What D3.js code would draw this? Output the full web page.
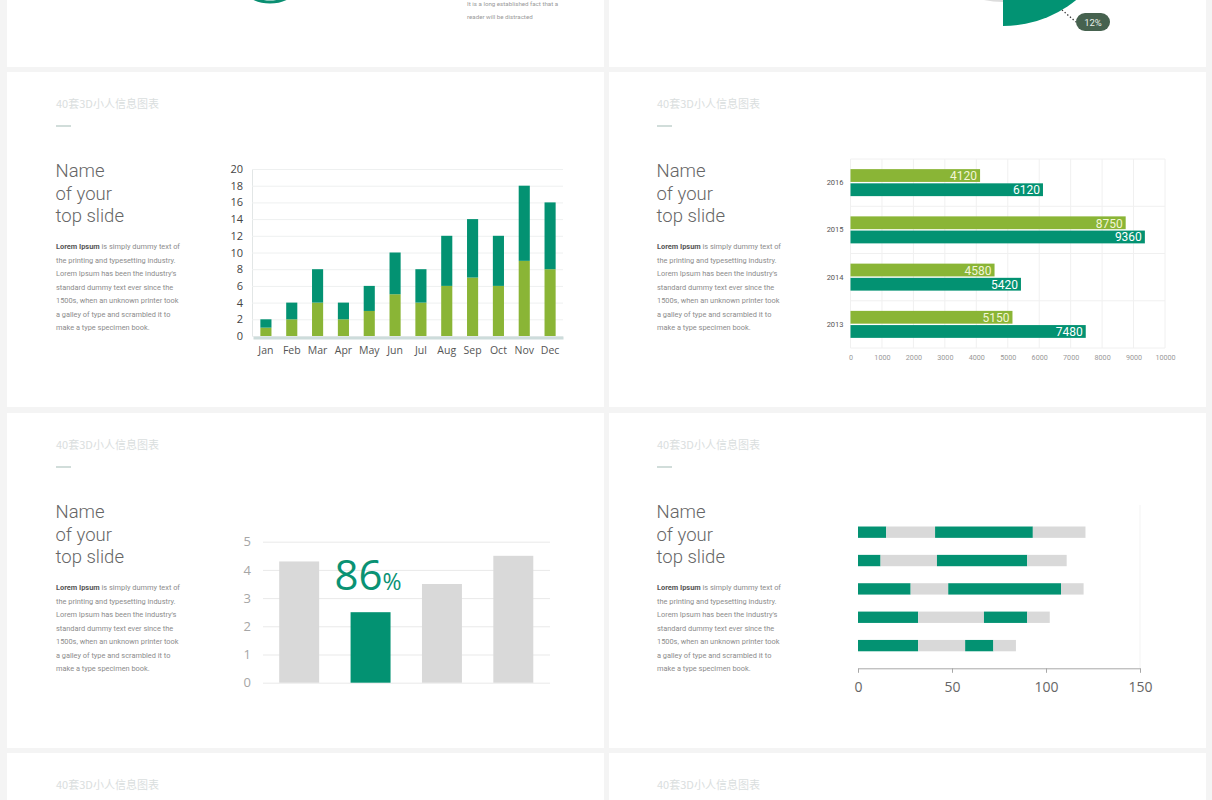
<!DOCTYPE html>
<html><head><meta charset="utf-8">
<script src="https://cdn.jsdelivr.net/npm/d3@7"></script>
<style>
html,body{margin:0;padding:0;background:#f4f4f4;}
svg{display:block;}
</style></head>
<body>
<svg id="c" width="1212" height="800"></svg>
<script>
// ---------- DATA ----------
const titleText = "40套3D小人信息图表";
const headLines = ["Name", "of your", "top slide"];
const paraBold = "Lorem Ipsum";
const paraLines = [" is simply dummy text of", "the printing and typesetting industry.", "Lorem Ipsum has been the industry's", "standard dummy text ever since the", "1500s, when an unknown printer took", "a galley of type and scrambled it to", "make a type specimen book."];
const topNote = ["It is a long established fact that a", "reader will be distracted"];

// chart 1: stacked monthly columns
const months = ["Jan","Feb","Mar","Apr","May","Jun","Jul","Aug","Sep","Oct","Nov","Dec"];
const lowerSeries = [1,2,4,2,3,5,4,6,7,6,9,8];
const upperSeries = [1,2,4,2,3,5,4,6,7,6,9,8];
const stackTicks = [0,2,4,6,8,10,12,14,16,18,20];

// chart 2: grouped horizontal bars
const years = ["2016","2015","2014","2013"];
const greenValues = [4120,8750,4580,5150];
const tealValues = [6120,9360,5420,7480];
const hTicks = [0,1000,2000,3000,4000,5000,6000,7000,8000,9000,10000];

// chart 3: columns with highlight
const colCats = ["A","B","C","D"];
const colValues = [4.3,2.5,3.5,4.5];
const colHighlight = "B";
const colBig = "86";
const colTicks = [0,1,2,3,4,5];

// chart 4: segmented horizontal bars
const segRows = ["r1","r2","r3","r4","r5"];
const segA = [15,12,28,32,32];
const segB = [26,30,20,35,25];
const segC = [52,48,60,23,15];
const segD = [28,21,12,12,12];
const segTicks = [0,50,100,150];

// top row partial charts
const pieSlices = [{v:25, r:116, c:"#029373"},{v:15, r:92, c:"#dcdcdc"}];
const pieLabel = "12%";

// ---------- STYLE ----------
const TEAL = "#039272", GREEN = "#8ab536", GRAY = "#d9d9d9";
const svg = d3.select("#c");
const fmtInt = d3.format("d");

// panels
const panels = [
  [7,-10,597,77],[609,-10,597,77],
  [7,72,597,335],[609,72,597,335],
  [7,413,597,335],[609,413,597,335],
  [7,753,597,60],[609,753,597,60]
];
svg.selectAll("rect.panel").data(panels).join("rect").attr("class","panel")
  .attr("x",d=>d[0]).attr("y",d=>d[1]).attr("width",d=>d[2]).attr("height",d=>d[3]).attr("fill","#fff");

function title(x,y){
  svg.append("text").attr("x",x).attr("y",y).text(titleText)
    .attr("font-family","'Noto Sans CJK SC', 'Noto Sans', sans-serif").attr("font-size",11).attr("fill","#dadede");
}
function block(x,dy){
  title(x,108+dy);
  svg.append("line").attr("x1",x).attr("x2",x+15).attr("y1",126+dy).attr("y2",126+dy).attr("stroke","#b9cbc6").attr("stroke-width",1.3);
  headLines.forEach((t,i)=>svg.append("text").attr("x",x-0.5).attr("y",177+dy+i*22.5).text(t)
    .attr("font-family","Roboto, sans-serif").attr("font-weight",300).attr("font-size",18.5).attr("fill","#666"));
  paraLines.forEach((t,i)=>{
    const tx = svg.append("text").attr("x",x).attr("y",249+dy+i*13.5)
      .attr("font-family","Roboto, sans-serif").attr("font-size",7.4).attr("fill","#8c8c8c");
    if(i===0){ tx.append("tspan").attr("font-weight",700).attr("fill","#555").text(paraBold); }
    tx.append("tspan").text(t);
  });
}
block(56,0); block(657,0); block(56,341); block(657,341);
title(56,789); title(657,789);

// ---------- TOP ROW partial visuals ----------
svg.append("circle").attr("cx",270).attr("cy",-36).attr("r",38).attr("fill","none").attr("stroke","#0a8f72").attr("stroke-width",3);
topNote.forEach((t,i)=>svg.append("text").attr("x",467).attr("y",6+i*12.5).text(t)
  .attr("font-family","Roboto, sans-serif").attr("font-size",6.2).attr("fill","#9a9a9a"));

const pieG = svg.append("g").attr("transform","translate(1003,-90)");
let a0 = Math.PI/2;
pieSlices.forEach((s,i)=>{
  const ang = i===0 ? Math.PI/2 : 0.35;
  const arc = d3.arc().innerRadius(0).outerRadius(s.r).startAngle(a0).endAngle(a0+ang);
  pieG.append("path").attr("d",arc()).attr("fill",s.c);
  a0 += ang;
});
svg.append("line").attr("x1",1062).attr("y1",10).attr("x2",1076).attr("y2",22)
  .attr("stroke","#333").attr("stroke-width",1.3).attr("stroke-dasharray","1.3,2.2");
svg.append("rect").attr("x",1076).attr("y",13).attr("width",34).attr("height",18).attr("rx",9).attr("fill","#46624f");
svg.append("text").attr("x",1093).attr("y",25.5).attr("text-anchor","middle").text(pieLabel)
  .attr("font-family","Roboto, sans-serif").attr("font-size",9.5).attr("fill","#e8f0ea");

// ---------- CHART 1 : stacked columns ----------
{
  const x = d3.scaleBand().domain(months).range([253,563]).paddingInner(0.57).paddingOuter(0.285);
  const y = d3.scaleLinear().domain([0,20]).range([336,169]);
  const g = svg.append("g");
  const ax = g.append("g").attr("transform","translate(252,0)")
    .call(d3.axisLeft(y).tickValues(stackTicks).tickFormat(fmtInt).tickSize(-311).tickPadding(9));
  ax.select(".domain").attr("stroke","#e2e6e6");
  ax.selectAll(".tick line").attr("stroke","#eef0f0");
  ax.selectAll("text").attr("font-family","'Open Sans', sans-serif").attr("font-size",11).attr("fill","#444");
  const rows = months.map((m,i)=>({m, lower:lowerSeries[i], upper:upperSeries[i]}));
  const stack = d3.stack().keys(["lower","upper"])(rows);
  const colors = {lower:GREEN, upper:TEAL};
  g.selectAll("g.s").data(stack).join("g").attr("fill",d=>colors[d.key])
    .selectAll("rect").data(d=>d).join("rect")
    .attr("x",d=>x(d.data.m)).attr("width",x.bandwidth())
    .attr("y",d=>y(d[1])).attr("height",d=>y(d[0])-y(d[1]));
  const bx = g.append("g").attr("transform","translate(0,337.5)")
    .call(d3.axisBottom(x).tickSize(0).tickPadding(9));
  bx.select(".domain").attr("stroke","#cddcdb").attr("stroke-width",3);
  bx.selectAll("text").attr("font-family","'Open Sans', sans-serif").attr("font-size",10.5).attr("fill","#555");
}

// ---------- CHART 2 : grouped horizontal bars ----------
{
  const x = d3.scaleLinear().domain([0,10000]).range([850.5,1165]);
  const y = d3.scaleBand().domain(years).range([159,348]);
  const g = svg.append("g");
  g.selectAll("line.v").data(hTicks).join("line").attr("x1",d=>x(d)).attr("x2",d=>x(d)).attr("y1",159).attr("y2",348).attr("stroke","#f0f0f0");
  g.selectAll("line.h").data([0,1,2,3,4]).join("line").attr("x1",850.5).attr("x2",1165)
    .attr("y1",d=>159+d*y.step()).attr("y2",d=>159+d*y.step()).attr("stroke","#f0f0f0");
  const bh = 12.8;
  const cy = d=>y(d)+y.bandwidth()/2;
  g.selectAll("rect.a").data(years).join("rect").attr("fill",GREEN)
    .attr("x",x(0)).attr("y",d=>cy(d)-bh-0.7).attr("height",bh).attr("width",(d,i)=>x(greenValues[i])-x(0));
  g.selectAll("rect.b").data(years).join("rect").attr("fill",TEAL)
    .attr("x",x(0)).attr("y",d=>cy(d)+0.7).attr("height",bh).attr("width",(d,i)=>x(tealValues[i])-x(0));
  g.selectAll("text.a").data(years).join("text").attr("text-anchor","end")
    .attr("x",(d,i)=>x(greenValues[i])-3).attr("y",d=>cy(d)-2.3).text((d,i)=>greenValues[i])
    .attr("font-family","Roboto, sans-serif").attr("font-size",12).attr("fill","#f3f6d8");
  g.selectAll("text.b").data(years).join("text").attr("text-anchor","end")
    .attr("x",(d,i)=>x(tealValues[i])-3).attr("y",d=>cy(d)+11.5).text((d,i)=>tealValues[i])
    .attr("font-family","Roboto, sans-serif").attr("font-size",12).attr("fill","#ffffff");
  const ay = g.append("g").attr("transform","translate(850.5,0)").call(d3.axisLeft(y).tickSize(0).tickPadding(7));
  ay.select(".domain").remove();
  ay.selectAll("text").attr("font-family","Roboto, sans-serif").attr("font-size",7.5).attr("fill","#555");
  const axx = g.append("g").attr("transform","translate(0,348)").call(d3.axisBottom(x).tickValues(hTicks).tickFormat(fmtInt).tickSize(0).tickPadding(7));
  axx.select(".domain").remove();
  axx.selectAll("text").attr("font-family","Roboto, sans-serif").attr("font-size",7.2).attr("fill","#999");
}

// ---------- CHART 3 : columns with highlight ----------
{
  const x = d3.scaleBand().domain(colCats).range([263.5,549]).paddingInner(0.44).paddingOuter(0.22);
  const y = d3.scaleLinear().domain([0,5]).range([682.7,541.7]);
  const g = svg.append("g");
  const ax = g.append("g").attr("transform","translate(263,0)")
    .call(d3.axisLeft(y).tickValues(colTicks).tickFormat(fmtInt).tickSize(-287).tickPadding(12));
  ax.select(".domain").remove();
  ax.selectAll(".tick line").attr("stroke","#e9e9e9");
  ax.selectAll("text").attr("font-family","'Open Sans', sans-serif").attr("font-size",13).attr("fill","#a6a6a6");
  g.selectAll("rect").data(colCats).join("rect")
    .attr("x",d=>x(d)).attr("width",x.bandwidth())
    .attr("y",(d,i)=>y(colValues[i])).attr("height",(d,i)=>y(0)-y(colValues[i]))
    .attr("fill",d=>d===colHighlight?TEAL:GRAY);
  const t = g.append("text").attr("x",x(colHighlight)-16).attr("y",590)
    .attr("font-family","'Open Sans', sans-serif").attr("fill","#0a9274");
  t.append("tspan").attr("font-size",42).text(colBig);
  t.append("tspan").attr("font-size",23).text("%");
}

// ---------- CHART 4 : segmented horizontal bars ----------
{
  const x = d3.scaleLinear().domain([0,150]).range([858,1140]);
  const y = d3.scaleBand().domain(segRows).range([509.5,668.3]).padding(0.6);
  const g = svg.append("g");
  g.append("line").attr("x1",x(150)).attr("x2",x(150)).attr("y1",505).attr("y2",668).attr("stroke","#f3f3f3");
  const rows = segRows.map((r,i)=>({r, a:segA[i], b:segB[i], c:segC[i], d:segD[i]}));
  const stack = d3.stack().keys(["a","b","c","d"])(rows);
  const colors = {a:TEAL, b:GRAY, c:TEAL, d:GRAY};
  g.selectAll("g.s").data(stack).join("g").attr("fill",d=>colors[d.key])
    .selectAll("rect").data(d=>d).join("rect")
    .attr("y",d=>y(d.data.r)).attr("height",y.bandwidth())
    .attr("x",d=>x(d[0])).attr("width",d=>x(d[1])-x(d[0]));
  const ax = g.append("g").attr("transform","translate(0,668.3)")
    .call(d3.axisBottom(x).tickValues(segTicks).tickSize(4.5).tickSizeOuter(0).tickPadding(9));
  ax.select(".domain").attr("stroke","#a8a8a8");
  ax.selectAll(".tick line").attr("stroke","#a8a8a8");
  ax.selectAll("text").attr("font-family","'Open Sans', sans-serif").attr("font-size",14).attr("fill","#666");
}
</script>
</body></html>
